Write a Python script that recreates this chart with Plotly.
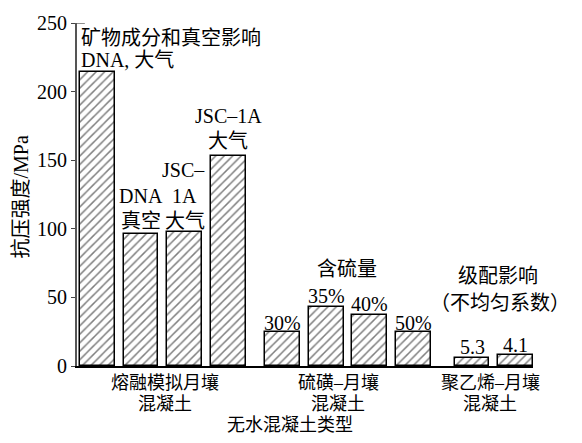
import plotly.graph_objects as go

# Compressive strength of anhydrous lunar-regolith concretes (MPa)
positions = [0, 1, 2, 3, 4.25, 5.25, 6.25, 7.25, 8.6, 9.6]
strength = [214, 96, 98, 153, 25, 43, 37, 25, 6, 8]

# Group (tick) labels under the x axis
group_pos = [1.55, 5.53, 9.02]
group_line1 = ["熔融模拟月壤", "硫磺–月壤", "聚乙烯–月壤"]
group_line2 = ["混凝土", "混凝土", "混凝土"]

y_ticks = [0, 50, 100, 150, 200, 250]

FONT = "Liberation Serif, Noto Sans CJK SC, serif"
FS = 20
FS_BOTTOM = 18

fig = go.Figure()
fig.add_trace(go.Bar(
    x=positions,
    y=strength,
    width=0.8,
    marker=dict(
        color="white",
        line=dict(color="black", width=1.5),
        pattern=dict(shape="/", size=6, solidity=0.25, fgcolor="black", bgcolor="white"),
    ),
    showlegend=False,
))

# In-plot labels: (text, x, y, xanchor)
labels = [
    ("矿物成分和真空影响", -0.425, 239, "left"),
    ("DNA, 大气", -0.425, 223, "left"),
    ("DNA", 1.0, 124, "center"),
    ("真空", 1.0, 106, "center"),
    ("JSC–", 1.98, 143, "center"),
    ("1A", 2.0, 124, "center"),
    ("大气", 2.0, 106, "center"),
    ("JSC–1A", 3.0, 182, "center"),
    ("大气", 3.0, 164, "center"),
    ("含硫量", 5.74, 71, "center"),
    ("30%", 4.25, 31.6, "center"),
    ("35%", 5.25, 51, "center"),
    ("40%", 6.25, 45.3, "center"),
    ("50%", 7.25, 31.6, "center"),
    ("级配影响", 9.2, 65.4, "center"),
    ("（不均匀系数）", 9.25, 46, "center"),
    ("5.3", 8.6, 13.6, "center"),
    ("4.1", 9.6, 15.1, "center"),
]
for text, x, y, xa in labels:
    fig.add_annotation(x=x, y=y, xref="x", yref="y", text=text, showarrow=False,
                       xanchor=xa, yanchor="middle",
                       font=dict(family=FONT, size=FS, color="black"))

# Two-line group labels below the baseline
for gx, l1, l2 in zip(group_pos, group_line1, group_line2):
    fig.add_annotation(x=gx, y=0, xref="x", yref="paper", text=l1, showarrow=False,
                       yanchor="middle", yshift=-17,
                       font=dict(family=FONT, size=FS_BOTTOM, color="black"))
    fig.add_annotation(x=gx, y=0, xref="x", yref="paper", text=l2, showarrow=False,
                       yanchor="middle", yshift=-38,
                       font=dict(family=FONT, size=FS_BOTTOM, color="black"))

# Axis titles
fig.add_annotation(x=0.5, y=0, xref="paper", yref="paper", text="无水混凝土类型",
                   showarrow=False, yanchor="middle", yshift=-59, xshift=-15,
                   font=dict(family=FONT, size=FS_BOTTOM, color="black"))
fig.add_annotation(x=0, y=0.5, xref="paper", yref="paper", text="抗压强度/MPa",
                   showarrow=False, textangle=-90, xanchor="center", yanchor="middle",
                   xshift=-57, yshift=-3,
                   font=dict(family=FONT, size=FS, color="black"))

# Small cap at the top of the y axis
fig.add_shape(type="line", xref="x", yref="y", x0=-0.47, x1=-0.29, y0=250, y1=250,
              line=dict(color="#444", width=1.2))

fig.update_layout(
    width=582, height=443,
    margin=dict(l=77, r=49, t=18, b=77),
    paper_bgcolor="white", plot_bgcolor="white",
    font=dict(family=FONT, size=FS, color="black"),
    bargap=0,
)
fig.update_xaxes(range=[-0.47, 10.0], showticklabels=False, ticks="",
                 showgrid=False, zeroline=False,
                 showline=True, linecolor="black", linewidth=1.5)
fig.update_yaxes(range=[0, 250], tickvals=y_ticks, ticks="outside", ticklen=4,
                 tickcolor="#444", showgrid=False, zeroline=False,
                 showline=True, linecolor="#555", linewidth=1.8,
                 tickfont=dict(family=FONT, size=FS, color="black"))

fig.write_html("out.html")
